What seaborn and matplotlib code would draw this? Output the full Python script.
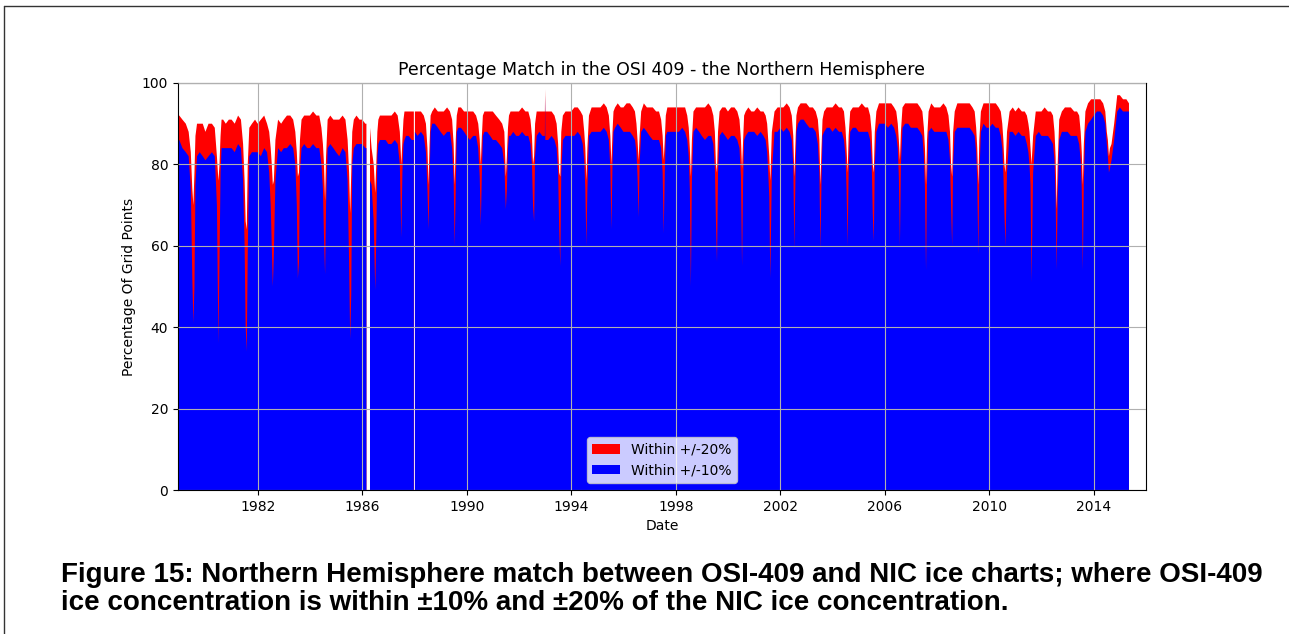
import numpy as np
import pandas as pd
import matplotlib
matplotlib.use("Agg")
import matplotlib.pyplot as plt
import matplotlib.dates as mdates
from matplotlib.lines import Line2D
import seaborn as sns

nan = np.nan

# one row per year, sampled at these fractions of the year
years = list(range(1979, 2016))
frac = [0.00, 0.12, 0.25, 0.36, 0.44, 0.50, 0.54, 0.58, 0.62, 0.68, 0.78, 0.90]

within20 = [
    [92, 91, 90, 88, 83, 74, 70, 78, 87, 90, 90, 90],
    [88, 90, 90, 89, 82, 76, 80, 87, 91, 91, 90, 91],
    [91, 90, 92, 91, 85, 76, 66, 64, 80, 89, 90, 91],
    [90, 91, 92, 90, 88, 84, 80, 75, 76, 86, 91, 90],
    [91, 92, 92, 91, 88, 83, 77, 78, 86, 91, 92, 92],
    [92, 93, 92, 92, 89, 85, 80, 71, 82, 91, 92, 91],
    [91, 91, 92, 91, 86, 78, 68, 78, 88, 91, 92, 91],
    [91, 90, nan, 84, 80, 73, 80, 88, 91, 92, 92, 92],
    [92, 92, 93, 92, 88, 80, 86, 91, 93, 93, 93, 93],
    [nan, 93, 93, 92, 90, 84, 75, 85, 92, 93, 94, 93],
    [93, 93, 94, 93, 91, 85, 75, 86, 92, 94, 94, 93],
    [93, 93, 93, 92, 90, 86, 80, 87, 92, 93, 93, 93],
    [93, 92, 91, 90, 88, 77, 82, 89, 92, 93, 93, 93],
    [93, 94, 93, 93, 91, 87, 80, 82, 90, 93, 93, 93],
    [98.5, 93, 93, 92, 90, 85, 78, 77, 88, 92, 93, 93],
    [93, 94, 94, 93, 92, 88, 84, 76, 84, 92, 94, 94],
    [94, 94, 95, 94, 92, 87, 80, 88, 93, 94, 95, 94],
    [94, 95, 95, 94, 93, 90, 86, 81, 87, 93, 95, 94],
    [94, 94, 93, 93, 91, 87, 81, 86, 92, 94, 94, 94],
    [94, 94, 94, 94, 92, 89, 84, 77, 86, 93, 94, 94],
    [94, 94, 95, 94, 92, 88, 80, 78, 88, 93, 94, 94],
    [93, 94, 94, 93, 91, 86, 79, 86, 92, 93, 94, 93],
    [93, 94, 93, 93, 92, 90, 86, 82, 76, 88, 93, 94],
    [94, 94, 95, 94, 92, 87, 77, 85, 92, 94, 95, 95],
    [95, 94, 94, 93, 91, 86, 75, 84, 91, 93, 94, 94],
    [94, 95, 94, 94, 93, 89, 84, 78, 87, 93, 94, 94],
    [94, 95, 94, 94, 92, 88, 80, 78, 88, 93, 95, 95],
    [95, 95, 95, 94, 93, 90, 86, 81, 88, 94, 95, 95],
    [95, 95, 95, 94, 93, 89, 84, 75, 86, 93, 95, 94],
    [94, 94, 95, 94, 92, 88, 80, 77, 88, 93, 95, 95],
    [95, 95, 95, 94, 93, 89, 84, 75, 86, 93, 95, 95],
    [95, 95, 95, 94, 93, 90, 86, 80, 78, 88, 93, 94],
    [93, 94, 93, 93, 92, 90, 88, 84, 80, 87, 93, 93],
    [93, 94, 93, 93, 92, 88, 82, 69, 80, 91, 93, 94],
    [94, 94, 93, 93, 92, 88, 83, 75, 85, 93, 95, 96],
    [96, 96, 96, 95, 93, 88, 86, 82, 84, 85, 90, 97],
    [97, 96, 96],
]

within10 = [
    [86, 84, 83, 82, 74, 52, 41, 50, 75, 82, 83, 82],
    [81, 82, 83, 82, 70, 36, 56, 78, 84, 84, 84, 84],
    [84, 83, 85, 84, 76, 60, 40, 34, 58, 82, 83, 83],
    [83, 82, 84, 83, 78, 70, 60, 50, 58, 76, 84, 83],
    [84, 84, 85, 84, 80, 70, 52, 56, 78, 84, 85, 84],
    [84, 85, 84, 84, 80, 74, 62, 53, 70, 84, 85, 84],
    [83, 82, 84, 83, 76, 56, 37, 48, 80, 84, 85, 85],
    [85, 84, nan, 75, 66, 49, 62, 82, 85, 86, 86, 86],
    [85, 85, 86, 85, 80, 62, 78, 85, 86, 87, 87, 86],
    [nan, 87, 88, 87, 83, 74, 64, 76, 88, 90, 90, 89],
    [88, 87, 88, 88, 84, 76, 60, 74, 88, 89, 89, 88],
    [87, 86, 87, 87, 84, 77, 65, 78, 87, 88, 88, 87],
    [86, 86, 85, 84, 80, 69, 74, 84, 87, 87, 88, 87],
    [87, 88, 87, 87, 85, 80, 70, 66, 82, 87, 88, 87],
    [97, 86, 87, 86, 84, 78, 64, 55, 78, 86, 87, 87],
    [87, 87, 88, 87, 85, 81, 74, 60, 74, 87, 88, 88],
    [88, 88, 89, 88, 86, 79, 64, 80, 88, 89, 90, 89],
    [88, 88, 88, 87, 86, 83, 77, 67, 80, 88, 89, 88],
    [87, 86, 86, 86, 84, 78, 63, 78, 87, 88, 88, 88],
    [88, 88, 89, 88, 86, 82, 74, 50, 76, 88, 89, 88],
    [87, 86, 87, 87, 85, 79, 66, 56, 78, 87, 88, 87],
    [86, 87, 87, 86, 84, 77, 55, 76, 86, 87, 88, 88],
    [88, 87, 88, 87, 86, 83, 78, 72, 52, 78, 88, 88],
    [89, 88, 89, 88, 86, 80, 59, 76, 88, 90, 91, 91],
    [90, 89, 89, 88, 85, 78, 59, 76, 87, 88, 89, 89],
    [88, 89, 88, 88, 86, 82, 74, 60, 78, 88, 89, 89],
    [88, 88, 88, 88, 86, 81, 68, 61, 80, 88, 90, 90],
    [90, 89, 90, 89, 87, 84, 77, 60, 80, 89, 90, 90],
    [89, 89, 89, 88, 87, 82, 74, 54, 76, 88, 89, 88],
    [88, 88, 88, 88, 86, 81, 70, 60, 80, 88, 89, 89],
    [89, 89, 89, 88, 87, 83, 76, 58, 77, 88, 90, 89],
    [89, 90, 89, 89, 87, 84, 78, 68, 60, 78, 88, 88],
    [87, 88, 87, 87, 85, 83, 80, 75, 51, 78, 87, 88],
    [87, 87, 87, 86, 85, 81, 72, 54, 72, 86, 88, 88],
    [88, 87, 87, 87, 85, 81, 74, 54, 76, 88, 90, 91],
    [92, 93, 93, 92, 90, 85, 82, 78, 79, 81, 86, 93],
    [94, 93, 93],
]

# single dated readings: record start/end, data gaps, the 1993 spike
extra_dates = ["1978-12-14", "1986-03-01", "1986-03-03", "1986-04-20",
               "1987-12-24", "1988-01-08", "1992-12-29", "1993-01-04", "2015-05-08"]
extra20 = [92, 90, nan, 89, 93, 93, 93, 93, 95]
extra10 = [86, 84, nan, 76, 86, 88, 87, 86, 93]

tick_years = list(range(1982, 2015, 4))

rows = []
for yr, r20, r10 in zip(years, within20, within10):
    for f, a, b in zip(frac, r20, r10):
        rows.append((pd.Timestamp(yr, 1, 1) + pd.Timedelta(days=round(f * 365)), a, b))
df = pd.DataFrame(rows, columns=["date", "w20", "w10"])
ext = pd.DataFrame({"date": pd.to_datetime(extra_dates), "w20": extra20, "w10": extra10})
df = pd.concat([df, ext]).sort_values("date").reset_index(drop=True)

sns.set_style("whitegrid", {
    "axes.edgecolor": "black", "grid.color": "#b0b0b0", "axes.axisbelow": False,
    "xtick.bottom": True, "ytick.left": True, "xtick.color": "black", "ytick.color": "black",
    "axes.labelcolor": "black", "text.color": "black",
})
plt.rcParams["font.family"] = ["DejaVu Sans"]
plt.rcParams["xtick.major.size"] = 3.5
plt.rcParams["ytick.major.size"] = 3.5

fig = plt.figure(figsize=(12.89, 6.34), dpi=100)
ax = fig.add_axes([178 / 1289, 1 - 490 / 634, (1146 - 178) / 1289, (490 - 83) / 634])

ax.fill_between(df["date"], 0, df["w20"], color="red", lw=0, label="Within +/-20%")
ax.fill_between(df["date"], 0, df["w10"], color="blue", lw=0, label="Within +/-10%")

ax.set_xlim(pd.Timestamp("1978-12-14"), pd.Timestamp("2016-01-01"))
ax.set_ylim(0, 100)
ax.set_yticks([0, 20, 40, 60, 80, 100])
ax.set_xticks([pd.Timestamp(y, 1, 1) for y in tick_years])
ax.xaxis.set_major_formatter(mdates.DateFormatter("%Y"))
ax.grid(True, color="#b0b0b0", lw=0.8)
ax.tick_params(labelsize=10, width=0.8, length=3.5)
for s in ax.spines.values():
    s.set_linewidth(0.8)
    s.set_color("black")

ax.set_title("Percentage Match in the OSI 409 - the Northern Hemisphere", fontsize=12.5)
ax.set_xlabel("Date", fontsize=10)
ax.set_ylabel("Percentage Of Grid Points", fontsize=10)
leg = ax.legend(loc="lower center", fontsize=10, frameon=True, fancybox=True,
                framealpha=0.8, facecolor="white", edgecolor="#cccccc")

cap = dict(fontsize=20, fontweight="bold", family=["Liberation Sans", "DejaVu Sans"], va="baseline")
fig.text(61 / 1289, 1 - 582 / 634,
         "Figure 15: Northern Hemisphere match between OSI-409 and NIC ice charts; where OSI-409", **cap)
fig.text(61 / 1289, 1 - 610 / 634,
         "ice concentration is within \u00b110% and \u00b120% of the NIC ice concentration.", **cap)

# page frame
fig.add_artist(Line2D([4 / 1289, 1], [1 - 6 / 634, 1 - 6 / 634], color="#333333", lw=1))
fig.add_artist(Line2D([4 / 1289, 4 / 1289], [0, 1 - 6 / 634], color="#333333", lw=1))

fig.savefig("out.png", dpi=100)
